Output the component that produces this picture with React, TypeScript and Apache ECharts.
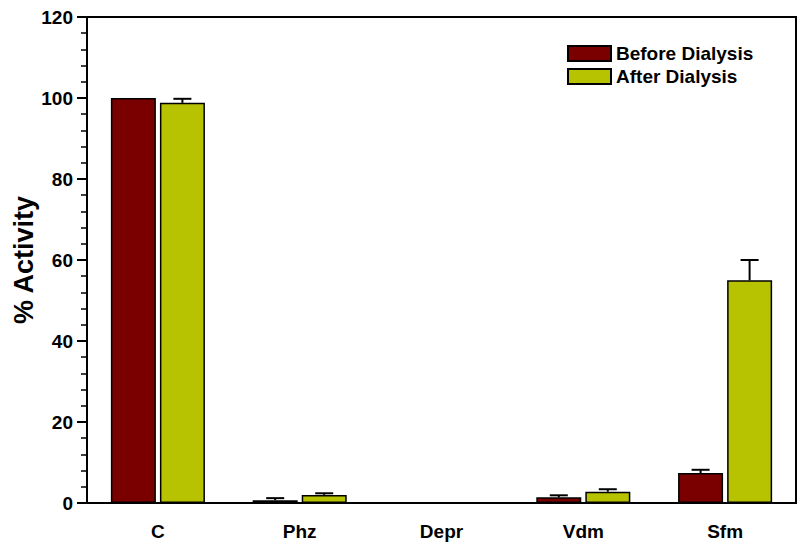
import React, { useEffect, useRef } from "react";
import * as echarts from "echarts";

const categories = ["C", "Phz", "Depr", "Vdm", "Sfm"];
const beforeValues = [100, 0.7, 0, 1.4, 7.4];
const afterValues = [98.8, 2.0, 0, 2.8, 55.0];
const beforeUpper = [100, 1.2, 0, 1.9, 8.2];
const afterUpper = [99.8, 2.4, 0, 3.4, 60.0];

const BAR_W = 45;
const BAR_OFFSET = 24.5;
const FONT = "Liberation Sans, Arial, sans-serif";

function errorSeries(values: number[], upper: number[], sign: number) {
  return {
    type: "custom",
    silent: true,
    z: 5,
    data: values.map((v, i) => [i, v, upper[i]]),
    encode: { x: 0, y: [1, 2] },
    renderItem: (params: any, api: any) => {
      const i = api.value(0);
      const v = api.value(1);
      const u = api.value(2);
      if (u <= v) return null;
      const p0 = api.coord([i, v]);
      const p1 = api.coord([i, u]);
      const x = p0[0] + sign * BAR_OFFSET;
      const style = { stroke: "#000", lineWidth: 2 };
      return {
        type: "group",
        children: [
          { type: "line", shape: { x1: x, y1: p0[1], x2: x, y2: p1[1] }, style },
          { type: "line", shape: { x1: x - 9, y1: p1[1], x2: x + 9, y2: p1[1] }, style },
        ],
      };
    },
  };
}

export default function App() {
  const ref = useRef<HTMLDivElement>(null);
  useEffect(() => {
    if (!ref.current) return;
    const chart = echarts.init(ref.current, null, { renderer: "svg" });
    chart.setOption({
      animation: false,
      backgroundColor: "#fff",
      textStyle: { fontFamily: FONT },
      grid: {
        left: 87,
        right: 4,
        top: 17,
        bottom: 47,
        containLabel: false,
        outerBoundsMode: "none",
        show: true,
        borderColor: "#000",
        borderWidth: 2,
      },
      legend: {
        data: ["Before Dialysis", "After Dialysis"],
        orient: "vertical",
        left: 562,
        top: 39,
        icon: "rect",
        itemWidth: 43,
        itemHeight: 15,
        itemGap: 4,
        textStyle: { fontFamily: FONT, fontWeight: "bold", fontSize: 19, color: "#000" },
      },
      xAxis: {
        type: "category",
        data: categories,
        axisLine: { lineStyle: { color: "#000", width: 2 } },
        axisTick: { alignWithLabel: true, length: 8, lineStyle: { color: "#000", width: 2 } },
        axisLabel: { fontFamily: FONT, fontWeight: "bold", fontSize: 19, color: "#000", margin: 19 },
      },
      yAxis: [
        {
          type: "value",
          min: 0,
          max: 120,
          interval: 20,
          name: "% Activity",
          nameLocation: "middle",
          nameGap: 50,
          nameMoveOverlap: false,
          nameTextStyle: { fontFamily: FONT, fontWeight: "bold", fontSize: 27, color: "#000" },
          splitLine: { show: false },
          axisLine: { show: true, lineStyle: { color: "#000", width: 2 } },
          axisTick: { show: true, length: 10, lineStyle: { color: "#000", width: 2 } },
          axisLabel: {
            fontFamily: FONT,
            fontWeight: "bold",
            fontSize: 19,
            color: "#000",
            margin: 14,
          },
        },
        {
          type: "value",
          position: "left",
          min: 0,
          max: 120,
          interval: 4,
          splitLine: { show: false },
          axisLine: { show: false },
          axisTick: { show: true, length: 6, lineStyle: { color: "#000", width: 1.5 } },
          axisLabel: { show: false },
        },
      ],
      series: [
        {
          name: "Before Dialysis",
          type: "bar",
          data: beforeValues,
          barWidth: BAR_W,
          barGap: "9%",
          itemStyle: { color: "#7a0000", borderColor: "#000", borderWidth: 1.5 },
        },
        {
          name: "After Dialysis",
          type: "bar",
          data: afterValues,
          barWidth: BAR_W,
          itemStyle: { color: "#b7c200", borderColor: "#000", borderWidth: 1.5 },
        },
        errorSeries(beforeValues, beforeUpper, -1),
        errorSeries(afterValues, afterUpper, 1),
      ],
    });
    return () => chart.dispose();
  }, []);
  return <div ref={ref} style={{ width: 800, height: 550, position: "absolute", left: 0, top: 0 }} />;
}
